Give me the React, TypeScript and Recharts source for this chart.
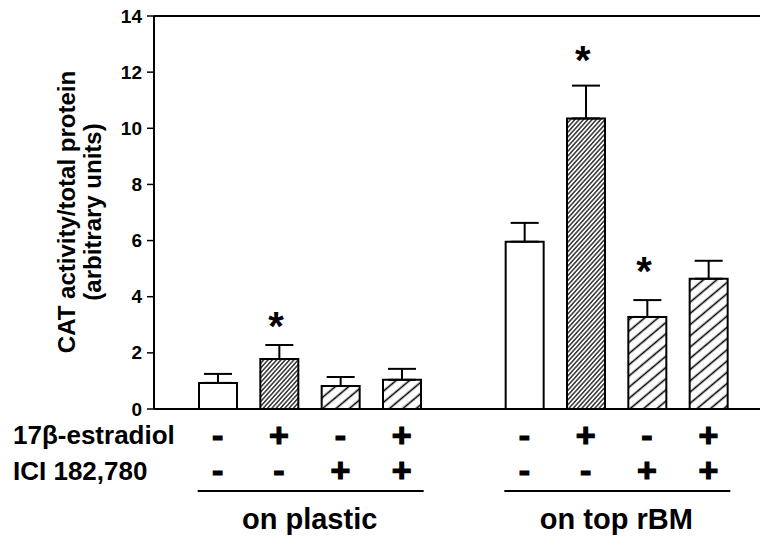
import React from 'react';
import { ComposedChart, Bar, Line, XAxis, YAxis, ErrorBar, Cell, ReferenceLine } from 'recharts';

// 9 slots: 4 bars on plastic, an empty slot, 4 bars on top of rBM
const categories = ['p1', 'p2', 'p3', 'p4', 'gap', 'r1', 'r2', 'r3', 'r4'];
const estradiol = ['-', '+', '-', '+', '', '-', '+', '-', '+'];
const ici = ['-', '-', '+', '+', '', '-', '-', '+', '+'];
const activity = [0.93, 1.78, 0.82, 1.04, null, 5.96, 10.35, 3.28, 4.64];
const sem = [0.32, 0.5, 0.32, 0.39, 0, 0.67, 1.17, 0.6, 0.64];
const starAt = [null, 3.25, null, null, null, null, 12.7, 5.2, null];
const groups = ['on plastic', 'on top rBM'];
const groupStart = [0, 5];
const yTicks = [0, 2, 4, 6, 8, 10, 12, 14];

const data = categories.map((name, i) => ({
  name,
  value: activity[i],
  err: [0, sem[i]],
  star: starAt[i],
}));

const FONT = '"Liberation Sans", Arial, Helvetica, sans-serif';
const W = 760;
const H = 541;
const TOP = 16;
const XAXIS_H = 132;
const YAXIS_W = 154;
const PAD_L = 33;
const PAD_R = 21;
const PLOT_BOTTOM = H - XAXIS_H;
const STEP = (W - YAXIS_W - PAD_L - PAD_R) / categories.length;

const fillFor = (i: number) =>
  ici[i] === '+' ? 'url(#sparseHatch)' : estradiol[i] === '+' ? 'url(#denseHatch)' : '#fff';

const Sign = ({ x, y, s }: any) =>
  s ? (
    <text x={x} y={y} textAnchor="middle" dominantBaseline="central" fontFamily={FONT}
      fontWeight="bold" fontSize={34} fill="#000" stroke="#000" strokeWidth={1.2}>
      {s}
    </text>
  ) : null;

const GroupTick = (props: any) => {
  const { x, index } = props;
  const g = groupStart.indexOf(index);
  return (
    <g>
      <Sign x={x} y={PLOT_BOTTOM + 26} s={estradiol[index]} />
      <Sign x={x} y={PLOT_BOTTOM + 61} s={ici[index]} />
      {g >= 0 && (
        <g>
          <line x1={x - 20} x2={x + 3 * STEP + 22} y1={PLOT_BOTTOM + 82} y2={PLOT_BOTTOM + 82}
            stroke="#000" strokeWidth={2} />
          <text x={x + 1.5 * STEP} y={PLOT_BOTTOM + 120} textAnchor="middle" fontFamily={FONT}
            fontWeight="bold" fontSize={29} fill="#000">
            {groups[g]}
          </text>
        </g>
      )}
    </g>
  );
};

const ValueTick = (props: any) => {
  const { x, y, payload } = props;
  return (
    <text x={x} y={y} textAnchor="end" dominantBaseline="central" fontFamily={FONT}
      fontWeight="bold" fontSize={19} fill="#000">
      {payload.value}
    </text>
  );
};

const StarDot = (props: any) => {
  const { cx, cy } = props;
  if (cy == null || isNaN(cy)) return <g />;
  return (
    <text x={cx - 3} y={cy + 22} textAnchor="middle" fontFamily={FONT} fontWeight="bold"
      fontSize={40} fill="#000">
      *
    </text>
  );
};

const AxisTitles = () => (
  <g fontFamily={FONT} fontWeight="bold" fill="#000">
    <text transform={`translate(66,212) rotate(-90)`} textAnchor="middle" dominantBaseline="central" fontSize={24}>
      CAT activity/total protein
    </text>
    <text transform={`translate(92,212) rotate(-90)`} textAnchor="middle" dominantBaseline="central" fontSize={24}>
      (arbitrary units)
    </text>
    <text x={13} y={444} fontSize={26}>17β-estradiol</text>
    <text x={13} y={480} fontSize={26}>ICI 182,780</text>
  </g>
);

export default function App() {
  return (
    <div style={{ position: 'absolute', left: 0, top: 0, width: W, height: H, background: '#fff' }}>
      <ComposedChart width={W} height={H} data={data} margin={{ top: TOP, right: 0, bottom: 0, left: 0 }}>
        <defs>
          <pattern id="denseHatch" patternUnits="userSpaceOnUse" width={10} height={3.2}
            patternTransform="rotate(-48)">
            <rect width={10} height={3.2} fill="#fff" />
            <line x1={0} x2={10} y1={1.6} y2={1.6} stroke="#000" strokeWidth={1.2} />
          </pattern>
          <pattern id="sparseHatch" patternUnits="userSpaceOnUse" width={10} height={8.6}
            patternTransform="rotate(-40)">
            <rect width={10} height={8.6} fill="#fff" />
            <line x1={0} x2={10} y1={4.3} y2={4.3} stroke="#000" strokeWidth={1.6} />
          </pattern>
        </defs>
        <XAxis dataKey="name" height={XAXIS_H} interval={0} padding={{ left: PAD_L, right: PAD_R }}
          axisLine={{ stroke: '#000', strokeWidth: 2 }} tickLine={false} tick={<GroupTick />} />
        <YAxis width={YAXIS_W} domain={[0, 14]} ticks={yTicks} allowDataOverflow
          axisLine={{ stroke: '#000', strokeWidth: 2 }} tickLine={{ stroke: '#000', strokeWidth: 1.5 }}
          tickSize={7} tickMargin={5} tick={<ValueTick />} label={<AxisTitles />} />
        <ReferenceLine y={14} stroke="#000" strokeWidth={2} />
        <Bar dataKey="value" barSize={38} stroke="#000" strokeWidth={2} isAnimationActive={false}>
          {data.map((d, i) => (
            <Cell key={d.name} fill={fillFor(i)} />
          ))}
          <ErrorBar dataKey="err" direction="y" width={14} stroke="#000" strokeWidth={2} />
        </Bar>
        <Line dataKey="star" stroke="none" isAnimationActive={false} dot={<StarDot />}
          activeDot={false} legendType="none" />
      </ComposedChart>
    </div>
  );
}
